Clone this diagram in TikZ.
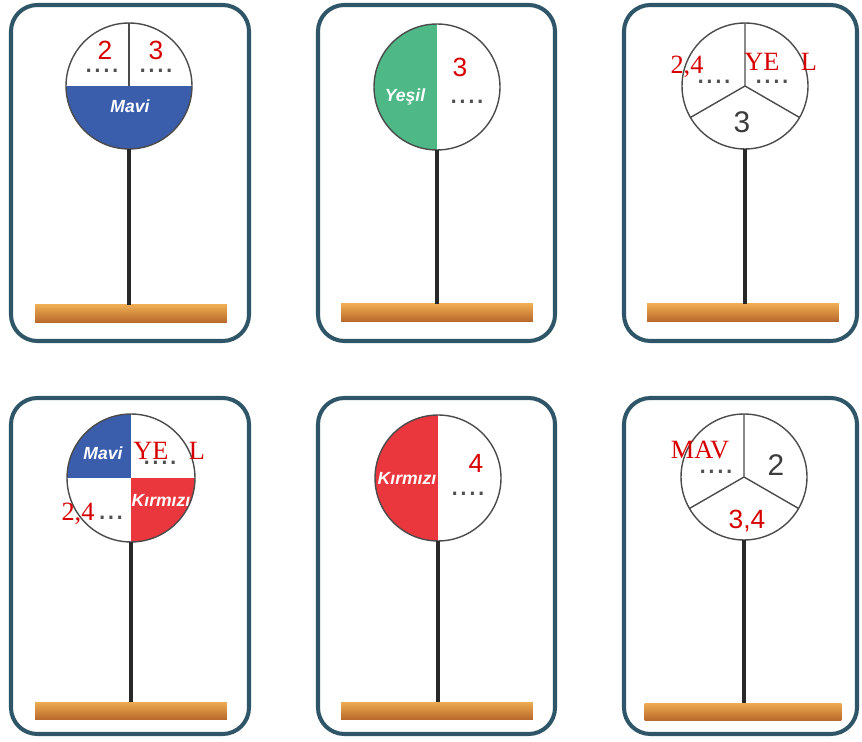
\documentclass[tikz,border=0pt]{standalone}
\usepackage{fontspec}
\setmainfont{Liberation Serif}
\setsansfont{Liberation Sans}
\definecolor{cardline}{RGB}{46,86,104}
\definecolor{mavi}{RGB}{58,93,172}
\definecolor{yesil}{RGB}{78,185,135}
\definecolor{kirmizi}{RGB}{234,55,62}
\definecolor{rimgray}{RGB}{75,75,75}
\definecolor{polegray}{RGB}{40,40,40}
\definecolor{dotgray}{RGB}{80,80,80}
\definecolor{numred}{RGB}{215,0,0}
\definecolor{numdark}{RGB}{60,60,60}
\definecolor{standtop}{RGB}{238,172,82}
\definecolor{standbot}{RGB}{182,102,42}

\tikzset{
  card/.style={draw=cardline, line width=2.3pt, rounded corners=15pt},
  disc/.style={circle, draw=rimgray, line width=0.8pt, minimum size=2.52cm, inner sep=0pt, outer sep=0pt},
  divider/.style={draw=rimgray, line width=0.8pt},
  pole/.style={draw=polegray, line width=2.8pt},
  stand/.style={rectangle, top color=standtop, bottom color=standbot, minimum width=3.84cm, minimum height=0.36cm, inner sep=0pt, outer sep=0pt},
  rednum/.style={text=numred, inner sep=0pt, font=\sffamily\fontsize{15}{15}\selectfont},
  redword/.style={text=numred, inner sep=0pt, font=\fontsize{15}{15}\selectfont},
  darknum/.style={text=numdark, inner sep=0pt, font=\sffamily\fontsize{17}{17}\selectfont},
  dotrow/.style={text=dotgray, inner sep=0pt, anchor=base, font=\sffamily\fontsize{18}{18}\selectfont},
  colword/.style={text=white, inner sep=0pt, font=\sffamily\bfseries\itshape\fontsize{10}{10}\selectfont},
}

\begin{document}
\begin{tikzpicture}[x=0.02cm, y=-0.02cm]
    \useasboundingbox (0,0) rectangle (862,742);

    % Cards
    \foreach \cx/\cy/\w in {11/5/238, 318/5/237, 624/5/233, 11/398/238, 318/398/237, 624/398/233}
        \draw[card] (\cx,\cy) rectangle ++(\w,336);

    % Coloured parts of the discs
    \begin{scope}
        \clip (129,86) circle [radius=63];
        \fill[mavi] (60,86) rectangle (200,160);
    \end{scope}
    \begin{scope}
        \clip (437,87) circle [radius=63];
        \fill[yesil] (360,10) rectangle (437,160);
    \end{scope}
    \begin{scope}
        \clip (131,478) circle [radius=64];
        \fill[mavi] (60,400) rectangle (131,478);
        \fill[kirmizi] (131,478) rectangle (200,560);
    \end{scope}
    \begin{scope}
        \clip (438,478) circle [radius=63];
        \fill[kirmizi] (360,400) rectangle (438,560);
    \end{scope}

    % Discs
    \node[disc] (d1) at (129,86) {};
    \node[disc] (d2) at (437,87) {};
    \node[disc] (d3) at (745,86) {};
    \node[disc, minimum size=2.56cm] (d4) at (131,478) {};
    \node[disc] (d5) at (438,478) {};
    \node[disc] (d6) at (744,477) {};

    % Dividers
    \draw[divider] (d1.north) -- (d1.center);
    \draw[divider] (d3.north) -- (d3.center) -- (d3.210);
    \draw[divider] (d3.center) -- (d3.330);
    \draw[divider] (d6.north) -- (d6.center) -- (d6.210);
    \draw[divider] (d6.center) -- (d6.330);

    % Stands and poles
    \node[stand] (s1) at (131,314) {};
    \node[stand] (s2) at (437,313) {};
    \node[stand] (s3) at (743,313) {};
    \node[stand] (s4) at (131,711) {};
    \node[stand] (s5) at (437,711) {};
    \node[stand, minimum width=3.94cm] (s6) at (743,712) {};
    \foreach \i in {1,...,6}
        \draw[pole] (d\i.south) -- (s\i.north -| d\i.south);

    % Card 1
    \node[colword] (m1) at (130,106) {Mavi};
    \node[dotrow] (p1a) at (102,73) {....};
    \node[dotrow] (p1b) at (156,73) {....};
    \node[rednum] (n1a) at (105,50) {2};
    \node[rednum] (n1b) at (156,50) {3};

    % Card 2
    \node[colword] (y2) at (405,97) {Yeşil};
    \node[dotrow] (p2) at (467,104) {....};
    \node[rednum] (n2) at (460,67) {3};

    % Card 3
    \node[dotrow] (p3a) at (714,84) {....};
    \node[dotrow] (p3b) at (772,84) {....};
    \node[darknum] (n3) at (742,122) {3};
    \node[redword] (r3a) at (687,67) {2,4};
    \node[redword] (r3b) at (762,62) {YE};
    \node[redword] (r3c) at (809,62) {L};

    % Card 4
    \node[colword] (m4) at (103,453) {Mavi};
    \node[colword] (k4) at (161,500) {Kırmızı};
    \node[dotrow] (p4a) at (160,465) {....};
    \node[dotrow] (p4b) at (111,520) {...};
    \node[redword] (r4a) at (151,451) {YE};
    \node[redword] (r4b) at (197,451) {L};
    \node[redword] (r4c) at (78,514) {2,4};

    % Card 5
    \node[colword] (k5) at (407,478) {Kırmızı};
    \node[dotrow] (p5) at (468,496) {....};
    \node[rednum] (n5) at (476,463) {4};

    % Card 6
    \node[dotrow] (p6) at (716,474) {....};
    \node[darknum] (n6) at (776,465) {2};
    \node[redword] (r6a) at (700,450) {MAV};
    \node[rednum] (r6b) at (747,521) {3,4};
\end{tikzpicture}
\end{document}
